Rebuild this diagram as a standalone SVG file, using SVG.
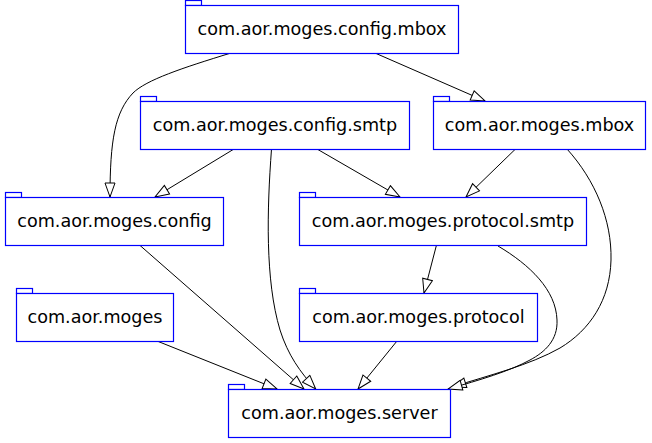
<svg xmlns="http://www.w3.org/2000/svg" width="652" height="443" viewBox="0 0 652 443">
<style>
.box{fill:#fff;stroke:#0000ff;stroke-width:1.2}
.tab{fill:#fff;stroke:#0000ff;stroke-width:1.2}
.lbl{font-family:"DejaVu Sans",sans-serif;font-size:17.6px;fill:#000;text-anchor:middle}
.edge{fill:none;stroke:#000;stroke-width:1}
</style>
<defs>
<marker id="arr" markerUnits="userSpaceOnUse" markerWidth="16" markerHeight="12" refX="14" refY="5" orient="auto" viewBox="-1 -1 16 12">
<path d="M0,0 L14,5 L0,10 Z" fill="#fff" stroke="#000" stroke-width="1"/>
</marker>
</defs>
<rect width="652" height="443" fill="#fff"/>
<g id="edges">
<path class="edge" marker-end="url(#arr)" d="M231,53 C182,68 146,80 133,93 C115,112 110,140 110,197"/>
<path class="edge" marker-end="url(#arr)" d="M375,53 L485,101"/>
<path class="edge" marker-end="url(#arr)" d="M234,149 L155,197"/>
<path class="edge" marker-end="url(#arr)" d="M317,149 L400,197"/>
<path class="edge" marker-end="url(#arr)" d="M271.5,149 C267,210 265,280 280,330 C288,355 300,372 315.7,389"/>
<path class="edge" marker-end="url(#arr)" d="M515.5,149 L466,197"/>
<path class="edge" marker-end="url(#arr)" d="M567,149 C595,180 612,220 611,260 C610,300 590,330 560,348 C530,365 490,375 452,387"/>
<path class="edge" marker-end="url(#arr)" d="M498,246 C530,265 556,290 557,320 C558,340 545,352 530,360 C510,371 480,380 448,389"/>
<path class="edge" marker-end="url(#arr)" d="M436.5,245 L424,293"/>
<path class="edge" marker-end="url(#arr)" d="M139.5,245 L304,389"/>
<path class="edge" marker-end="url(#arr)" d="M157,341 L277,389"/>
<path class="edge" marker-end="url(#arr)" d="M397,341 L358,389"/>
</g>
<g id="n_config_mbox">
<rect class="tab" x="185.5" y="0.5" width="16" height="5"/>
<rect class="box" x="185.5" y="5.5" width="273" height="48"/>
<text class="lbl" x="322" y="35">com.aor.moges.config.mbox</text>
</g>
<g id="n_config_smtp">
<rect class="tab" x="140.5" y="96.5" width="16" height="5"/>
<rect class="box" x="140.5" y="101.5" width="269" height="48"/>
<text class="lbl" x="275" y="131">com.aor.moges.config.smtp</text>
</g>
<g id="n_mbox">
<rect class="tab" x="433.5" y="96.5" width="16" height="5"/>
<rect class="box" x="433.5" y="101.5" width="212" height="48"/>
<text class="lbl" x="539.5" y="131">com.aor.moges.mbox</text>
</g>
<g id="n_config">
<rect class="tab" x="5.5" y="192.5" width="16" height="5"/>
<rect class="box" x="5.5" y="197.5" width="218" height="48"/>
<text class="lbl" x="114.5" y="227">com.aor.moges.config</text>
</g>
<g id="n_protocol_smtp">
<rect class="tab" x="299.5" y="192.5" width="16" height="5"/>
<rect class="box" x="299.5" y="197.5" width="287" height="48"/>
<text class="lbl" x="443" y="227">com.aor.moges.protocol.smtp</text>
</g>
<g id="n_moges">
<rect class="tab" x="16.5" y="288.5" width="16" height="5"/>
<rect class="box" x="16.5" y="293.5" width="157" height="48"/>
<text class="lbl" x="95" y="323">com.aor.moges</text>
</g>
<g id="n_protocol">
<rect class="tab" x="299.5" y="288.5" width="16" height="5"/>
<rect class="box" x="299.5" y="293.5" width="238" height="48"/>
<text class="lbl" x="418.5" y="323">com.aor.moges.protocol</text>
</g>
<g id="n_server">
<rect class="tab" x="228.5" y="384.5" width="16" height="5"/>
<rect class="box" x="228.5" y="389.5" width="222" height="48"/>
<text class="lbl" x="339.5" y="419">com.aor.moges.server</text>
</g>
</svg>
